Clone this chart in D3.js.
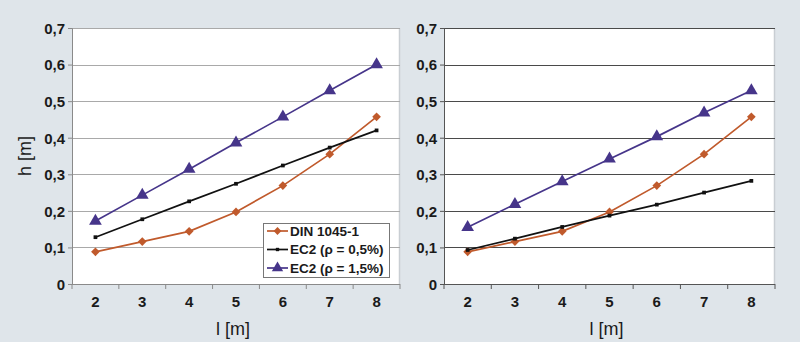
<!DOCTYPE html>
<html>
<head>
<meta charset="utf-8">
<script src="https://cdn.jsdelivr.net/npm/d3@7"></script>
<style>
  html, body { margin: 0; padding: 0; background: #dfe5ea; }
  svg { display: block; }
</style>
</head>
<body>
<svg id="chart" width="800" height="342"></svg>
<script>
// ---- data ----
const categories = [2, 3, 4, 5, 6, 7, 8];
const yTicks = [0, 0.1, 0.2, 0.3, 0.4, 0.5, 0.6, 0.7];
const seriesNames = ["DIN 1045-1", "EC2 (\u03c1 = 0,5%)", "EC2 (\u03c1 = 1,5%)"];

const leftDIN   = [0.088, 0.116, 0.144, 0.197, 0.269, 0.355, 0.457];
const leftEC05  = [0.128, 0.177, 0.226, 0.274, 0.324, 0.373, 0.420];
const leftEC15  = [0.172, 0.243, 0.314, 0.386, 0.457, 0.529, 0.600];

const rightDIN  = [0.088, 0.116, 0.144, 0.197, 0.269, 0.355, 0.457];
const rightEC05 = [0.093, 0.124, 0.156, 0.187, 0.217, 0.250, 0.282];
const rightEC15 = [0.155, 0.218, 0.280, 0.342, 0.403, 0.468, 0.529];

const colors = ["#c05a2c", "#111111", "#46358a"];
const shapes = [d3.symbolDiamond2, d3.symbolSquare, d3.symbolTriangle];
const sizes = [48, 14, 70];

const svg = d3.select("#chart");
const font = "'Liberation Sans', Arial, sans-serif";

function panel(opts) {
  const { x0, x1, y0, y1, series, gridColor, axisColor, showYTitle, legend } = opts;
  const g = svg.append("g");
  const x = d3.scaleBand().domain(categories).range([x0, x1]);
  const y = d3.scaleLinear().domain([0, 0.7]).range([y1, y0]);

  g.append("rect").attr("x", x0).attr("y", y0).attr("width", x1 - x0).attr("height", y1 - y0)
    .attr("fill", "#ffffff");
  g.append("line").attr("x1", x1 - 0.5).attr("x2", x1 - 0.5).attr("y1", y0).attr("y2", y1)
    .attr("stroke", "#c9ced3").attr("stroke-width", 1.5);

  g.selectAll(".grid").data(yTicks.filter(t => t > 0)).enter().append("line")
    .attr("x1", x0).attr("x2", x1)
    .attr("y1", d => Math.round(y(d)) + 0.5).attr("y2", d => Math.round(y(d)) + 0.5)
    .attr("stroke", gridColor).attr("stroke-width", 1.2);

  const yAxis = d3.axisLeft(y).tickValues(yTicks).tickSize(4)
    .tickFormat(d => d === 0 ? "0" : d3.format(".1f")(d).replace(".", ","));
  const ya = g.append("g").attr("transform", `translate(${x0},0)`).call(yAxis);
  ya.attr("font-size", null).attr("font-family", null);
  ya.select(".domain").attr("stroke", axisColor);
  ya.selectAll(".tick line").attr("stroke", axisColor);
  ya.selectAll("text").style("font-family", font).style("font-size", "15px").style("font-weight", "bold")
    .attr("fill", "#1a1a1a").attr("x", -7).attr("dy", "0.36em");

  const xa = g.append("g").attr("transform", `translate(0,${y1})`);
  xa.append("line").attr("x1", x0).attr("x2", x1).attr("y1", 0.5).attr("y2", 0.5).attr("stroke", axisColor);
  const bounds = categories.map(c => x(c)).concat([x1]);
  xa.selectAll(".bt").data(bounds).enter().append("line")
    .attr("x1", d => d).attr("x2", d => d).attr("y1", 0).attr("y2", 5).attr("stroke", axisColor);
  xa.selectAll(".xl").data(categories).enter().append("text")
    .attr("x", d => x(d) + x.bandwidth() / 2).attr("y", 23)
    .attr("text-anchor", "middle").style("font-family", font).style("font-size", "15px")
    .style("font-weight", "bold").attr("fill", "#1a1a1a").text(d => d);

  g.append("text").attr("x", (x0 + x1) / 2 - 3).attr("y", y1 + 51)
    .attr("text-anchor", "middle").style("font-family", font).style("font-size", "18px")
    .attr("fill", "#1a1a1a").text("l [m]");
  if (showYTitle) {
    g.append("text").attr("transform", `translate(31,${(y0 + y1) / 2}) rotate(-90)`)
      .attr("text-anchor", "middle").style("font-family", font).style("font-size", "18px")
      .attr("fill", "#1a1a1a").text("h [m]");
  }

  const line = d3.line().x((d, i) => x(categories[i]) + x.bandwidth() / 2).y(d => y(d));
  series.forEach((vals, si) => {
    g.append("path").datum(vals).attr("d", line).attr("fill", "none")
      .attr("stroke", colors[si]).attr("stroke-width", 1.7);
    g.selectAll(".m" + si).data(vals).enter().append("path")
      .attr("d", d3.symbol().type(shapes[si]).size(sizes[si]))
      .attr("transform", (d, i) => `translate(${x(categories[i]) + x.bandwidth() / 2},${y(d)})`)
      .attr("fill", colors[si]);
  });

  if (legend) {
    const lg = g.append("g");
    const lx = 263, ly = 223, lw = 126, lh = 54;
    lg.append("rect").attr("x", lx + 0.5).attr("y", ly + 0.5).attr("width", lw).attr("height", lh)
      .attr("fill", "#ffffff").attr("stroke", "#777777").attr("stroke-width", 1);
    seriesNames.forEach((name, si) => {
      const cy = ly + 8 + si * 18.5;
      lg.append("line").attr("x1", lx + 4).attr("x2", lx + 25).attr("y1", cy).attr("y2", cy)
        .attr("stroke", colors[si]).attr("stroke-width", 1.7);
      lg.append("path").attr("d", d3.symbol().type(shapes[si]).size(sizes[si] * 0.8))
        .attr("transform", `translate(${lx + 14.5},${cy})`).attr("fill", colors[si]);
      lg.append("text").attr("x", lx + 27).attr("y", cy).attr("dy", "0.36em")
        .style("font-family", font).style("font-size", "13.5px").style("font-weight", "bold")
        .attr("fill", "#1a1a1a").text(name);
    });
  }
}

panel({ x0: 72, x1: 400, y0: 28, y1: 284, series: [leftDIN, leftEC05, leftEC15],
        gridColor: "#a9a9a9", axisColor: "#8a8a8a", showYTitle: true, legend: true });
panel({ x0: 444, x1: 775, y0: 28, y1: 284, series: [rightDIN, rightEC05, rightEC15],
        gridColor: "#4a4a4a", axisColor: "#555555", showYTitle: false, legend: false });
</script>
</body>
</html>
